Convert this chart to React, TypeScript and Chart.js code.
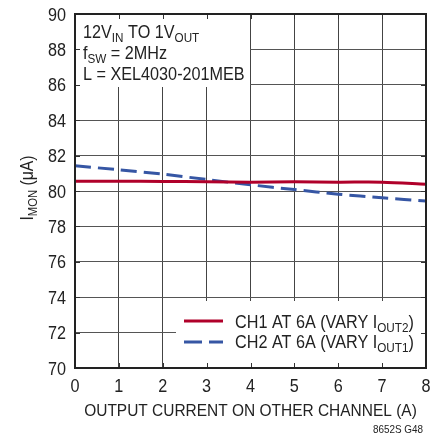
import { useEffect, useRef } from 'react';
import { Chart, registerables } from 'chart.js';
Chart.register(...registerables);

const otherChannelCurrent = [0, 1, 2, 3, 4, 5, 6, 7, 8];
const ch1Imon = [80.55, 80.55, 80.54, 80.52, 80.5, 80.52, 80.5, 80.5, 80.38];
const ch2Imon = [81.42, 81.2, 80.95, 80.65, 80.35, 80.08, 79.82, 79.62, 79.43];
const xTickValues = [0, 1, 2, 3, 4, 5, 6, 7, 8];
const yTickValues = [70, 72, 74, 76, 78, 80, 82, 84, 86, 88, 90];

const FONT = "'Liberation Sans', Arial, sans-serif";
const K = 0.9; // horizontal condensing to mimic a narrow face
const RED = '#b0002a';
const BLUE = '#3656a4';
const TEXT = '#222';

type Part = { t: string; sub?: boolean };

function drawRich(
  ctx: CanvasRenderingContext2D,
  parts: Part[],
  x: number,
  y: number,
  size: number,
  subSize: number,
  align: 'left' | 'center' | 'right'
) {
  ctx.textAlign = 'left';
  ctx.textBaseline = 'alphabetic';
  let w = 0;
  for (const p of parts) {
    ctx.font = `${p.sub ? subSize : size}px ${FONT}`;
    w += ctx.measureText(p.t).width * K;
  }
  let cx = align === 'left' ? x : align === 'center' ? x - w / 2 : x - w;
  for (const p of parts) {
    ctx.font = `${p.sub ? subSize : size}px ${FONT}`;
    ctx.save();
    ctx.translate(cx, p.sub ? y + 4 : y);
    ctx.scale(K, 1);
    ctx.fillText(p.t, 0, 0);
    ctx.restore();
    cx += ctx.measureText(p.t).width * K;
  }
}

const decorPlugin = {
  id: 'decor',
  beforeDatasetsDraw(chart: any) {
    const ctx: CanvasRenderingContext2D = chart.ctx;
    const xs = chart.scales.x;
    const ys = chart.scales.y;
    const { left, right, top, bottom } = chart.chartArea;
    ctx.save();
    // white boxes covering grid
    ctx.fillStyle = '#fff';
    ctx.fillRect(left, top, 175, 73);
    ctx.fillRect(176, 301, right - 176, bottom - 301);
    // inward tick marks
    ctx.strokeStyle = '#333';
    ctx.lineWidth = 1;
    const tl = 5;
    ctx.beginPath();
    for (const v of xTickValues) {
      const px = Math.round(xs.getPixelForValue(v)) + 0.5;
      ctx.moveTo(px, bottom);
      ctx.lineTo(px, bottom - tl);
      ctx.moveTo(px, top);
      ctx.lineTo(px, top + tl);
    }
    for (const v of yTickValues) {
      const py = Math.round(ys.getPixelForValue(v)) + 0.5;
      ctx.moveTo(left, py);
      ctx.lineTo(left + tl, py);
      ctx.moveTo(right, py);
      ctx.lineTo(right - tl, py);
    }
    ctx.stroke();
    // annotation text
    ctx.fillStyle = TEXT;
    drawRich(ctx, [{ t: '12V' }, { t: 'IN', sub: true }, { t: ' TO 1V' }, { t: 'OUT', sub: true }], 83, 38, 18, 13, 'left');
    drawRich(ctx, [{ t: 'f' }, { t: 'SW', sub: true }, { t: ' = 2MHz' }], 83, 59, 18, 13, 'left');
    drawRich(ctx, [{ t: 'L = XEL4030-201MEB' }], 83, 80, 18, 13, 'left');
    // legend
    ctx.lineWidth = 3;
    ctx.strokeStyle = RED;
    ctx.setLineDash([]);
    ctx.beginPath();
    ctx.moveTo(184, 321);
    ctx.lineTo(223, 321);
    ctx.stroke();
    ctx.strokeStyle = BLUE;
    ctx.setLineDash([18, 7]);
    ctx.beginPath();
    ctx.moveTo(184, 342);
    ctx.lineTo(223, 342);
    ctx.stroke();
    ctx.setLineDash([]);
    drawRich(ctx, [{ t: 'CH1 AT 6A (VARY I' }, { t: 'OUT2', sub: true }, { t: ')' }], 235, 328, 18, 13, 'left');
    drawRich(ctx, [{ t: 'CH2 AT 6A (VARY I' }, { t: 'OUT1', sub: true }, { t: ')' }], 235, 348, 18, 13, 'left');
    ctx.restore();
  },
  afterDatasetsDraw(chart: any) {
    const ctx: CanvasRenderingContext2D = chart.ctx;
    const { left, right, top, bottom } = chart.chartArea;
    ctx.save();
    ctx.strokeStyle = '#222';
    ctx.lineWidth = 2;
    ctx.strokeRect(left, top, right - left, bottom - top);
    ctx.restore();
  },
  afterDraw(chart: any) {
    const ctx: CanvasRenderingContext2D = chart.ctx;
    const xs = chart.scales.x;
    const ys = chart.scales.y;
    const { left, bottom } = chart.chartArea;
    ctx.save();
    ctx.fillStyle = TEXT;
    // tick labels
    for (const v of xTickValues) {
      drawRich(ctx, [{ t: String(v) }], xs.getPixelForValue(v), bottom + 24, 18, 13, 'center');
    }
    for (const v of yTickValues) {
      drawRich(ctx, [{ t: String(v) }], left - 9, ys.getPixelForValue(v) + 6.5, 18, 13, 'right');
    }
    drawRich(ctx, [{ t: 'OUTPUT CURRENT ON OTHER CHANNEL (A)' }], 250.5, 416, 17.2, 13, 'center');
    drawRich(ctx, [{ t: '8652S G48' }], 423, 433, 11, 8, 'right');
    ctx.translate(26, 188);
    ctx.rotate(-Math.PI / 2);
    drawRich(ctx, [{ t: 'I' }, { t: 'MON', sub: true }, { t: ' (μA)' }], 0, 6.5, 17.5, 12.5, 'center');
    ctx.restore();
  },
};

export default function App() {
  const ref = useRef<HTMLCanvasElement | null>(null);
  useEffect(() => {
    document.body.style.margin = '0';
    const canvas = ref.current;
    if (!canvas) return;
    const chart = new Chart(canvas, {
      type: 'line',
      data: {
        datasets: [
          {
            label: 'CH1 AT 6A (VARY IOUT2)',
            data: otherChannelCurrent.map((x, i) => ({ x, y: ch1Imon[i] })),
            borderColor: RED,
            borderWidth: 3,
            pointRadius: 0,
            tension: 0.3,
            fill: false,
          },
          {
            label: 'CH2 AT 6A (VARY IOUT1)',
            data: otherChannelCurrent.map((x, i) => ({ x, y: ch2Imon[i] })),
            borderColor: BLUE,
            borderWidth: 3,
            borderDash: [16, 7],
            pointRadius: 0,
            tension: 0.3,
            fill: false,
          },
        ],
      },
      options: {
        animation: false,
        responsive: true,
        maintainAspectRatio: false,
        layout: { padding: { top: 14, right: 15, left: 0, bottom: 0 } },
        plugins: { legend: { display: false }, tooltip: { enabled: false } },
        scales: {
          x: {
            type: 'linear',
            min: 0,
            max: 8,
            afterFit: (s: any) => {
              s.height = 68;
            },
            afterBuildTicks: (s: any) => {
              s.ticks = xTickValues.map((v) => ({ value: v }));
            },
            grid: { color: '#444', lineWidth: 1, drawTicks: false },
            border: { display: false },
            ticks: { display: false },
          },
          y: {
            type: 'linear',
            min: 70,
            max: 90,
            afterFit: (s: any) => {
              s.width = 75;
            },
            afterBuildTicks: (s: any) => {
              s.ticks = yTickValues.map((v) => ({ value: v }));
            },
            grid: { color: '#555', lineWidth: 1, drawTicks: false },
            border: { display: false },
            ticks: { display: false },
          },
        },
      },
      plugins: [decorPlugin],
    });
    return () => chart.destroy();
  }, []);
  return (
    <div style={{ position: 'fixed', left: 0, top: 0, width: 441, height: 436, background: '#fff' }}>
      <canvas ref={ref} />
    </div>
  );
}
